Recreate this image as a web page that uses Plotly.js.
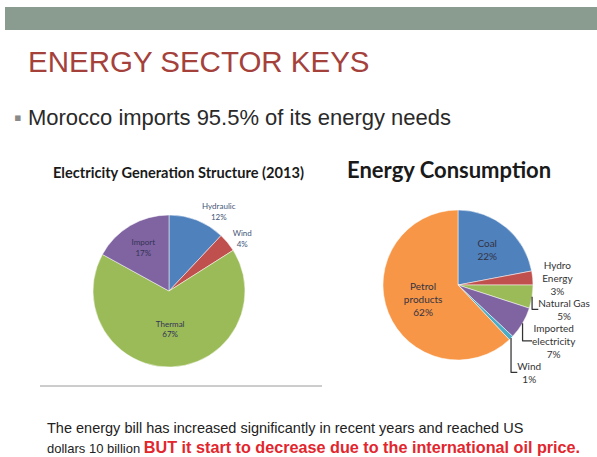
<!DOCTYPE html>
<html>
<head>
<meta charset="utf-8">
<script src="https://cdn.plot.ly/plotly-3.0.1.min.js"></script>
<style>
html,body{margin:0;padding:0;background:#ffffff;}
#chart{width:597px;height:457px;}
</style>
</head>
<body>
<div id="chart"></div>
<script>
// Left chart: Electricity Generation Structure (2013)
const genLabels = ["Hydraulic", "Wind", "Thermal", "Import"];
const genValues = [12, 4, 67, 17];
const genColors = ["#4F81BD", "#C0504D", "#9BBB59", "#8064A2"];

// Right chart: Energy Consumption
const consLabels = ["Coal", "Hydro<br>Energy", "Natural Gas", "Imported<br>electricity", "Wind", "Petrol<br>products"];
const consValues = [22, 3, 5, 7, 1, 62];
const consColors = ["#4F81BD", "#C0504D", "#9BBB59", "#8064A2", "#4BACC6", "#F79646"];

const W = 597, H = 457;
const px = x => x / W;
const py = y => 1 - y / H;

const traces = [
  {
    type: "pie",
    labels: genLabels,
    values: genValues,
    marker: {colors: genColors, line: {color: "#ffffff", width: 0.5}},
    sort: false,
    direction: "clockwise",
    rotation: 0,
    domain: {x: [px(93), px(245)], y: [py(370), py(212)]},
    texttemplate: "%{label}<br>%{percent:.0%}",
    textposition: ["outside", "outside", "inside", "inside"],
    insidetextorientation: "horizontal",
    textfont: {family: "Lato, sans-serif", size: 8, color: "#333355"},
    outsidetextfont: {family: "Lato, sans-serif", size: 8, color: "#445577"},
    hoverinfo: "label+percent",
    showlegend: false
  },
  {
    type: "pie",
    labels: consLabels,
    values: consValues,
    marker: {colors: consColors, line: {color: "#ffffff", width: 0.5}},
    sort: false,
    direction: "clockwise",
    rotation: 0,
    domain: {x: [px(383), px(533)], y: [py(360), py(210)]},
    texttemplate: "%{label}<br>%{percent:.0%}",
    textposition: ["inside", "outside", "outside", "outside", "outside", "inside"],
    insidetextorientation: "horizontal",
    textfont: {family: "Lato, sans-serif", size: 10, color: "#333344"},
    outsidetextfont: {family: "Lato, sans-serif", size: 10, color: "#333333"},
    hoverinfo: "label+percent",
    showlegend: false
  }
];

const layout = {
  width: W, height: H,
  margin: {l: 0, r: 0, t: 0, b: 0},
  paper_bgcolor: "#ffffff",
  plot_bgcolor: "#ffffff",
  showlegend: false,
  shapes: [
    {type: "rect", xref: "paper", yref: "paper", x0: px(5), x1: 1, y0: py(30), y1: py(7),
     fillcolor: "#8A9C90", line: {width: 0}, layer: "below"},
    {type: "line", xref: "paper", yref: "paper", x0: px(40), x1: px(322), y0: py(386), y1: py(386),
     line: {color: "#9a9a9a", width: 1}}
  ],
  annotations: [
    {xref: "paper", yref: "paper", x: px(26), y: py(62), xanchor: "left", yanchor: "middle",
     text: "ENERGY SECTOR KEYS", showarrow: false,
     font: {family: "Liberation Sans, Arial, sans-serif", size: 29.5, color: "#A5413B"}},
    {xref: "paper", yref: "paper", x: px(12), y: py(117), xanchor: "left", yanchor: "middle",
     text: "<span style='color:#8a8a8a'>▪</span> Morocco imports 95.5% of its energy needs", showarrow: false,
     font: {family: "Liberation Sans, Arial, sans-serif", size: 22, color: "#2a2a2a"}},
    {xref: "paper", yref: "paper", x: px(178), y: py(172), xanchor: "center", yanchor: "middle",
     text: "<b>Electricity Generation Structure (2013)</b>", showarrow: false,
     font: {family: "Lato, sans-serif", size: 14.6, color: "#1a1a1a"}},
    {xref: "paper", yref: "paper", x: px(449), y: py(170), xanchor: "center", yanchor: "middle",
     text: "<b>Energy Consumption</b>", showarrow: false,
     font: {family: "Lato, sans-serif", size: 22, color: "#1a1a1a"}},
    {xref: "paper", yref: "paper", x: px(45), y: py(428), xanchor: "left", yanchor: "middle",
     text: "The energy bill has increased significantly in recent years and reached US", showarrow: false,
     font: {family: "Liberation Sans, Arial, sans-serif", size: 14.5, color: "#222222"}},
    {xref: "paper", yref: "paper", x: px(45), y: py(447), xanchor: "left", yanchor: "middle",
     text: "<span style='font-size:13px'>dollars 10 billion </span><b><span style='color:#E2262E;font-size:16.2px'>BUT it start to decrease due to the international oil price.</span></b>", showarrow: false,
     font: {family: "Liberation Sans, Arial, sans-serif", size: 14.5, color: "#222222"}}
  ]
};

Plotly.newPlot("chart", traces, layout, {displayModeBar: false, staticPlot: true});
</script>
</body>
</html>
